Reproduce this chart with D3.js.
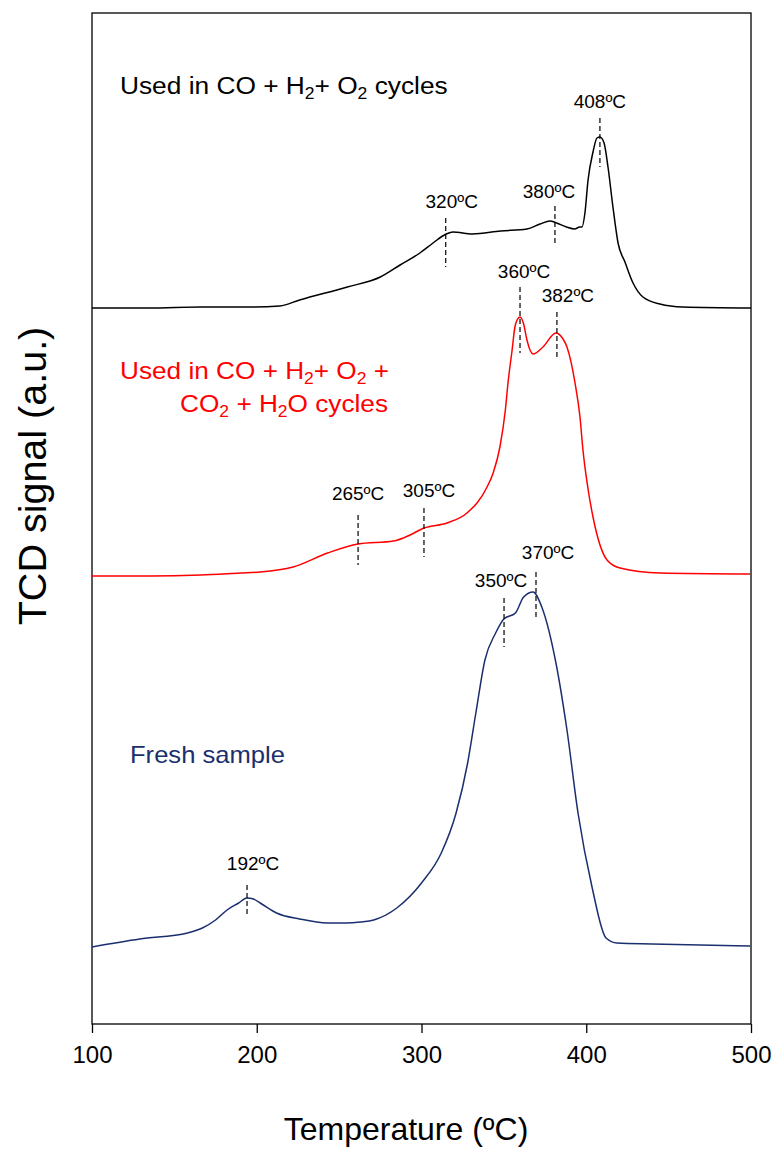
<!DOCTYPE html>
<html>
<head>
<meta charset="utf-8">
<script src="https://cdn.jsdelivr.net/npm/d3@7/dist/d3.min.js"></script>
<style>
  html, body { margin: 0; padding: 0; background: #fff; }
  svg { display: block; }
  text { font-family: Arial, "Liberation Sans", Helvetica, sans-serif; }
</style>
</head>
<body>
<svg id="chart" width="781" height="1151"></svg>
<script>
// ---------------- DATA ----------------
const xTicks = [100, 200, 300, 400, 500];

// Used in CO + H2 + O2 cycles (black) : [temperature ºC, TCD signal a.u.]
const usedCO = [
  [100,716],[135,716],[166,717],[196,717],[214,718],[226,724],[255,737],[275,747],
  [287,759],[299,771],[307,781],[315,790],[319,792],[331,790],[348,793],[364,795],
  [372,800],[378,803],[382,801],[388,797],[393,795],[396,797],[397.4,797],[399.2,811],
  [401.1,844],[404.1,872],[406.5,886],[408.3,887],[410.8,881],[413.2,857],[416.2,817],
  [419.3,781],[423.5,762],[428.4,741],[434.4,727],[444.7,720],[458.7,717],[500,716]
];

// Used in CO + H2 + O2 + CO2 + H2O cycles (red)
const usedCO2 = [
  [100,448],[135,448],[166,449],[190,451],[202,452],[222,457],[243,471],[261.5,480],
  [283,483],[293,489],[301.5,496],[315.5,501],[327.6,511],[339.8,537],[343.5,551],
  [347.6,577],[350.9,614],[352.5,641],[355,674],[356.7,697],[358,704],[359.8,707],
  [362,700],[364,684],[367.7,670],[373.7,677],[381.6,691],[385.5,686],[388.3,677],
  [393.2,641],[396.2,607],[398,574],[400.9,537],[404.1,507],[412.6,464],[420.5,456],
  [444.8,451],[499.4,450]
];

// Fresh sample (navy)
const fresh = [
  [100,77],[129,85],[158,91],[167,96],[175,104],[182,114],[189,121],[194,126],
  [198,125],[203,120],[212,111],[226,105],[243,101],[254,101],[263,102],[271,104],
  [285,116],[300,141],[312,171],[321,211],[328,261],[333,311],[338.5,364],[345,391],
  [350,405],[357,411],[362,427],[367.7,432],[373,417],[381.6,361],[388.3,294],
  [395,211],[403.5,137],[412,86],[418.7,81],[440,80],[499.4,78]
];

// Peak markers: [label, temperature position, top signal, bottom signal]
const peaksCO   = [["320ºC",314.7,806,757],["380ºC",381.0,818,779],["408ºC",408.3,906,857]];
const peaksCO2  = [["265ºC",261.5,509,459],["305ºC",301.5,516,467],["360ºC",359.8,737,671],["382ºC",382.2,712,664]];
const peaksFresh= [["192ºC",194.1,139,107],["350ºC",350.1,426,377],["370ºC",369.5,452,404]];

// ---------------- LAYOUT ----------------
const M = { left: 92, right: 751, top: 13, bottom: 1024 };
const svg = d3.select("#chart");

const x = d3.scaleLinear().domain([100, 500]).range([M.left, M.right]);
const y = d3.scaleLinear().domain([0, 1011]).range([M.bottom, M.top]);

// frame
svg.append("rect")
  .attr("x", M.left).attr("y", M.top)
  .attr("width", M.right - M.left).attr("height", M.bottom - M.top)
  .attr("fill", "none").attr("stroke", "#000").attr("stroke-width", 1.3);

// x axis
const xAxis = d3.axisBottom(x).tickValues(xTicks).tickSize(9).tickSizeOuter(0).tickPadding(13)
  .tickFormat(d3.format("d"));
const gx = svg.append("g").attr("transform", `translate(0,${M.bottom})`).call(xAxis);
gx.select(".domain").remove();
gx.selectAll(".tick line").attr("stroke", "#000").attr("stroke-width", 1.3);
gx.selectAll(".tick text").attr("font-size", 24).attr("fill", "#000")
  .style("font-family", "Arial, 'Liberation Sans', sans-serif");

// axis titles
svg.append("text").attr("x", 406).attr("y", 1140).attr("text-anchor", "middle")
  .attr("font-size", 32).attr("fill", "#000").text("Temperature (ºC)");
svg.append("text").attr("transform", "translate(46,476) rotate(-90)")
  .attr("text-anchor", "middle").attr("font-size", 39.5).attr("fill", "#000")
  .text("TCD signal (a.u.)");

// curves
const line = d3.line().x(d => x(d[0])).y(d => y(d[1])).curve(d3.curveMonotoneX);
const series = [
  { data: usedCO,  color: "#000000", peaks: peaksCO },
  { data: usedCO2, color: "#ff0000", peaks: peaksCO2 },
  { data: fresh,   color: "#1b2f6e", peaks: peaksFresh }
];
// label horizontal offsets (px) relative to marker
const labelDx = { "320ºC": 6, "380ºC": -6, "408ºC": 0, "265ºC": 0, "305ºC": 5, "360ºC": 4,
                  "382ºC": 11, "192ºC": 6, "350ºC": -3, "370ºC": 12 };
const labelGap = { "320ºC": 10, "380ºC": 8, "408ºC": 10, "265ºC": 15, "305ºC": 11, "360ºC": 9,
                   "382ºC": 10, "192ºC": 15, "350ºC": 11, "370ºC": 13 };

series.forEach(s => {
  svg.append("path").datum(s.data).attr("d", line)
    .attr("fill", "none").attr("stroke", s.color).attr("stroke-width", 1.5)
    .attr("stroke-linejoin", "round");
});
series.forEach(s => {
  s.peaks.forEach(p => {
    svg.append("line")
      .attr("x1", x(p[1])).attr("x2", x(p[1]))
      .attr("y1", y(p[2])).attr("y2", y(p[3]))
      .attr("stroke", "#000").attr("stroke-width", 1.2).attr("stroke-dasharray", "5,3");
    svg.append("text")
      .attr("x", x(p[1]) + labelDx[p[0]]).attr("y", y(p[2]) - labelGap[p[0]])
      .attr("text-anchor", "middle").attr("font-size", 19).attr("fill", "#000")
      .text(p[0]);
  });
});

// series labels with subscripts
function richText(parts, xPos, yPos, color, anchor, targetWidth) {
  const t = svg.append("text").attr("x", xPos).attr("y", yPos)
    .attr("font-size", 24).attr("fill", color).attr("text-anchor", anchor);
  let pending = 0;
  parts.forEach(p => {
    if (p.sub) {
      t.append("tspan").attr("font-size", 16).attr("dy", 5 + pending).text(p.sub);
      pending = -5;
    } else {
      t.append("tspan").attr("dy", pending).text(p.t);
      pending = 0;
    }
  });
  const w = t.node().getComputedTextLength();
  if (targetWidth && w > 0) {
    const k = targetWidth / w;
    t.attr("transform", `translate(${xPos},0) scale(${k},1) translate(${-xPos},0)`);
  }
  return t;
}
richText([{t:"Used in CO + H"},{sub:"2"},{t:"+ O"},{sub:"2"},{t:" cycles"}], 120, 94, "#000", "start", 328);
richText([{t:"Used in CO + H"},{sub:"2"},{t:"+ O"},{sub:"2"},{t:" +"}], 389, 379, "#ff0000", "end", 269);
richText([{t:"CO"},{sub:"2"},{t:" + H"},{sub:"2"},{t:"O cycles"}], 388, 412, "#ff0000", "end", 208);
richText([{t:"Fresh sample"}], 130, 763, "#1b2f6e", "start", 155);
</script>
</body>
</html>
